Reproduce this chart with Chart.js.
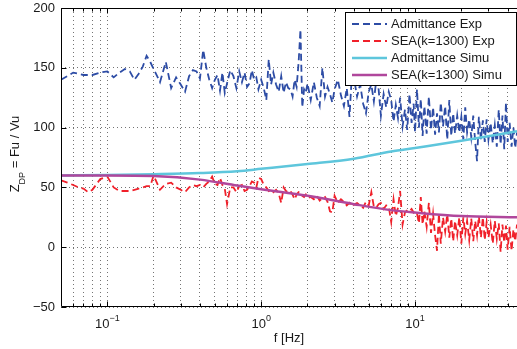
<!DOCTYPE html>
<html>
<head>
<meta charset="utf-8">
<script src="https://cdn.jsdelivr.net/npm/chart.js@4.4.1/dist/chart.umd.min.js"></script>
<style>
  html, body { margin: 0; padding: 0; background: #fff; }
  #wrap { width: 517px; height: 349px; }
</style>
</head>
<body>
<div id="wrap"><canvas id="grafico" width="517" height="349"></canvas></div>
<script>
// frequencies of the measured curves (Hz)
const freqExp = [
  0.05, 0.055, 0.06, 0.065, 0.07, 0.075, 0.08, 0.09, 0.1, 0.11, 0.12, 0.13, 0.14, 0.15,
  0.16, 0.17, 0.18, 0.19, 0.2, 0.22, 0.24, 0.26, 0.28, 0.3, 0.32, 0.34, 0.36, 0.38,
  0.4, 0.42, 0.44, 0.46, 0.48, 0.5, 0.52, 0.54, 0.56, 0.58, 0.6, 0.63, 0.66, 0.69, 0.72,
  0.75, 0.78, 0.81, 0.84, 0.87, 0.9, 0.93, 0.96, 1.0, 1.04, 1.08, 1.12, 1.16, 1.2, 1.25,
  1.3, 1.35, 1.4, 1.45, 1.5, 1.55, 1.6, 1.65, 1.7, 1.75, 1.8, 1.85, 1.9, 1.95, 2.0,
  2.1, 2.2, 2.3, 2.4, 2.5, 2.6, 2.7, 2.8, 2.9, 3.0, 3.15, 3.3, 3.45, 3.6, 3.75, 3.9,
  4.05, 4.2, 4.4, 4.6, 4.8, 5.0, 5.2, 5.4, 5.6, 5.8, 6.0, 6.25, 6.5, 6.75, 7.0, 7.25,
  7.5, 7.75, 8.0, 8.3, 8.6, 8.9, 9.2, 9.5, 9.8, 10.0,
  10.3, 10.6, 10.9, 11.2, 11.5, 11.9, 12.3, 12.7, 13.1, 13.5, 13.9, 14.3, 14.7, 15.2,
  15.7, 16.2, 16.7, 17.2, 17.7, 18.2, 18.8, 19.4, 20, 20.6, 21.2, 21.8, 22.5, 23.2,
  23.9, 24.6, 25.3, 26, 26.8, 27.6, 28.4, 29.2, 30, 31, 32, 33, 34, 35, 36, 37, 38, 39,
  40, 41.2, 42.4, 43.6, 44.8, 46
];

const admitanciaExp = [
  140, 143, 146, 145, 144, 144, 144, 146, 147, 142, 146, 149, 147, 140,
  145, 151, 160, 155, 149, 138, 155, 133, 142, 136, 130, 143, 148, 147,
  141, 165, 150, 140, 133, 140, 144, 131, 146, 129, 137, 148, 143, 133, 147,
  138, 146, 134, 137, 148, 140, 142, 132, 140, 133, 123, 157, 136, 146, 136,
  130, 143, 129, 138, 133, 132, 126, 140, 134, 154, 182, 117, 132, 129, 137,
  123, 138, 125, 118, 150, 126, 134, 128, 121, 132, 140, 127, 118, 133, 109,
  148, 138, 126, 136, 120, 112, 130, 136, 122, 140, 132, 110, 128, 117, 130, 123,
  105, 119, 108, 125, 101, 115, 98, 128, 104, 120, 96,
  132, 100, 124, 93, 118, 95, 126, 98, 117, 94, 112, 96, 121, 101,
  118, 90, 123, 93, 112, 95, 110, 96, 109, 90, 117, 96, 107, 92,
  110, 88, 72, 109, 90, 106, 88, 107, 90, 104, 87, 102, 84, 115, 86, 110, 82, 121,
  88, 104, 84, 100, 83, 96
];

const seaExp = [
  56, 54, 52, 50, 49, 46, 48, 57, 59, 50, 47, 47, 47, 48,
  49, 50, 51, 51, 60, 48, 53, 54, 50, 48, 46, 50, 52, 51,
  52, 50, 53, 55, 59, 53, 52, 58, 52, 49, 36, 50, 50, 46, 51,
  52, 47, 48, 51, 55, 54, 50, 58, 57, 52, 50, 47, 48, 46, 48,
  45, 37, 50, 47, 46, 47, 44, 40, 44, 46, 45, 43, 42, 44, 41,
  42, 40, 43, 39, 41, 42, 38, 30, 29, 43, 37, 40, 38, 35, 37,
  34, 36, 37, 35, 33, 38, 35, 46, 34, 33, 36, 37, 32, 35, 34, 21,
  40, 26, 33, 47, 19, 29, 31, 30, 32, 29, 30,
  28, 20, 42, 19, 30, 17, 37, 12, 28, 10, -3, 28, 3, 25,
  13, 28, 8, 24, 5, 22, 10, 25, 3, 25, 11, 22, 6, 24,
  5, 22, 10, 26, 8, 25, 6, 21, 8, 19, 3, 22, 7, 20, -4, 19, 4, 18,
  -2, 17, -3, 15, 5, 19
];

// simulated curves
const freqSimu = [0.05, 0.1, 0.2, 0.4, 0.7, 1, 2, 4, 7, 10, 20, 46];
const admitanciaSimu = [60, 60.3, 61, 62, 63.5, 65.5, 69.5, 74, 80, 83, 89, 97];
const seaSimu = [60, 60, 59.5, 56.5, 51.5, 48.5, 43, 36, 31, 29, 26, 25];

const etiquetas = ['Admittance Exp', 'SEA(k=1300) Exp', 'Admittance Simu', 'SEA(k=1300) Simu'];

// axis ticks
const yTicks = [-50, 0, 50, 100, 150, 200];
const xGrid = [0.06, 0.07, 0.08, 0.09, 0.1, 0.2, 0.3, 0.4, 0.5, 0.6, 0.7, 0.8, 0.9, 1,
  2, 3, 4, 5, 6, 7, 8, 9, 10, 20, 30, 40];
const xLabelValues = [0.1, 1, 10];
const xLabelExps = ['\u22121', '0', '1'];

const FUENTE = '"Liberation Sans", Arial, sans-serif';
const TEXTO = '#1a1a1a';
const GRID = 'rgba(70,70,70,0.75)';

const puntos = (xs, ys) => xs.map((f, i) => ({ x: f, y: ys[i] }));

// frame, ticks, labels and legend (matlab style)
const marcoPlugin = {
  id: 'marco',
  afterDraw(chart) {
    const { ctx, chartArea: a, scales: { x, y } } = chart;
    ctx.save();
    ctx.setLineDash([]);
    ctx.strokeStyle = '#000';
    ctx.lineWidth = 1;
    const top = Math.round(a.top) + 0.5;
    const bottom = Math.round(a.bottom) - 0.5;
    const left = Math.round(a.left) + 0.5;
    ctx.beginPath();
    ctx.moveTo(left, top); ctx.lineTo(a.right, top);
    ctx.moveTo(left, top); ctx.lineTo(left, bottom);
    ctx.moveTo(left, bottom); ctx.lineTo(a.right, bottom);
    // x ticks
    xGrid.forEach(v => {
      const px = Math.round(x.getPixelForValue(v)) + 0.5;
      const len = xLabelValues.includes(v) ? 5 : 3;
      ctx.moveTo(px, bottom); ctx.lineTo(px, bottom - len);
      ctx.moveTo(px, top); ctx.lineTo(px, top + len);
    });
    // y ticks
    yTicks.forEach(v => {
      const py = Math.round(y.getPixelForValue(v)) + 0.5;
      ctx.moveTo(left, py); ctx.lineTo(left + 5, py);
    });
    ctx.stroke();

    // x tick labels 10^n
    ctx.fillStyle = TEXTO;
    ctx.textBaseline = 'alphabetic';
    ctx.textAlign = 'left';
    xLabelValues.forEach((v, i) => {
      const px = x.getPixelForValue(v);
      ctx.font = '13px ' + FUENTE;
      const w1 = ctx.measureText('10').width;
      ctx.font = '9px ' + FUENTE;
      const w2 = ctx.measureText(xLabelExps[i]).width;
      const x0 = px - (w1 + w2) / 2;
      ctx.font = '13px ' + FUENTE;
      ctx.fillText('10', x0, 328);
      ctx.font = '9px ' + FUENTE;
      ctx.fillText(xLabelExps[i], x0 + w1, 321);
    });

    // x title
    ctx.font = '13px ' + FUENTE;
    ctx.textAlign = 'center';
    ctx.fillText('f [Hz]', (a.left + a.right) / 2, 342);

    // y title, rotated
    ctx.save();
    ctx.translate(19, 154);
    ctx.rotate(-Math.PI / 2);
    ctx.textAlign = 'left';
    ctx.font = '13px ' + FUENTE;
    const wZ = ctx.measureText('Z').width;
    const wResto = ctx.measureText(' = Fu / Vu').width;
    ctx.font = '9px ' + FUENTE;
    const wDP = ctx.measureText('DP').width;
    let cx = -(wZ + wDP + wResto) / 2;
    ctx.font = '13px ' + FUENTE;
    ctx.fillText('Z', cx, 0);
    cx += wZ;
    ctx.font = '9px ' + FUENTE;
    ctx.fillText('DP', cx, 6);
    cx += wDP;
    ctx.font = '13px ' + FUENTE;
    ctx.fillText(' = Fu / Vu', cx, 0);
    ctx.restore();

    // legend box
    ctx.fillStyle = '#fff';
    ctx.fillRect(345.5, 12.5, 171, 73);
    ctx.strokeStyle = '#000';
    ctx.lineWidth = 1;
    ctx.strokeRect(345.5, 12.5, 171, 73);
    chart.data.datasets.forEach((ds, i) => {
      const ly = 24 + i * 17;
      ctx.beginPath();
      ctx.setLineDash(ds.borderDash || []);
      ctx.strokeStyle = ds.borderColor;
      ctx.lineWidth = ds.borderWidth;
      ctx.moveTo(352, ly); ctx.lineTo(387, ly);
      ctx.stroke();
      ctx.setLineDash([]);
      ctx.fillStyle = TEXTO;
      ctx.font = '13px ' + FUENTE;
      ctx.textAlign = 'left';
      ctx.textBaseline = 'middle';
      ctx.fillText(ds.label, 391, ly + 0.5);
    });
    ctx.restore();
  }
};

const ctx = document.getElementById('grafico').getContext('2d');
new Chart(ctx, {
  type: 'line',
  data: {
    datasets: [
      {
        label: etiquetas[0], data: puntos(freqExp, admitanciaExp),
        borderColor: '#2d4ca5', borderWidth: 1.8, borderDash: [7, 4], order: 3
      },
      {
        label: etiquetas[1], data: puntos(freqExp, seaExp),
        borderColor: '#f0202a', borderWidth: 1.8, borderDash: [7, 4], order: 2
      },
      {
        label: etiquetas[2], data: puntos(freqSimu, admitanciaSimu),
        borderColor: '#5ec6dc', borderWidth: 2.5, cubicInterpolationMode: 'monotone', order: 1
      },
      {
        label: etiquetas[3], data: puntos(freqSimu, seaSimu),
        borderColor: '#b0479c', borderWidth: 2.5, cubicInterpolationMode: 'monotone', order: 0
      }
    ]
  },
  options: {
    responsive: false,
    devicePixelRatio: 1,
    animation: false,
    layout: { padding: { top: 8, right: 0, left: 0, bottom: 0 } },
    elements: { point: { radius: 0 }, line: { tension: 0, fill: false } },
    plugins: { legend: { display: false }, tooltip: { enabled: false } },
    scales: {
      x: {
        type: 'logarithmic',
        min: 0.05,
        max: 46,
        afterBuildTicks: (s) => { s.ticks = xGrid.map(v => ({ value: v })); },
        afterFit: (s) => { s.height = 42; s.paddingLeft = 0; s.paddingRight = 0; },
        ticks: { display: false },
        grid: { color: GRID, lineWidth: 1, drawTicks: false },
        border: { display: false, dash: [1, 3] }
      },
      y: {
        min: -50,
        max: 200,
        afterFit: (s) => { s.width = 61; s.paddingTop = 0; s.paddingBottom = 0; },
        ticks: {
          stepSize: 50,
          padding: 6,
          color: TEXTO,
          font: { family: FUENTE, size: 13 },
          callback: (v) => String(v).replace('-', '\u2212')
        },
        grid: { color: GRID, lineWidth: 1, drawTicks: false },
        border: { display: false, dash: [1, 3] }
      }
    }
  },
  plugins: [marcoPlugin]
});
</script>
</body>
</html>
